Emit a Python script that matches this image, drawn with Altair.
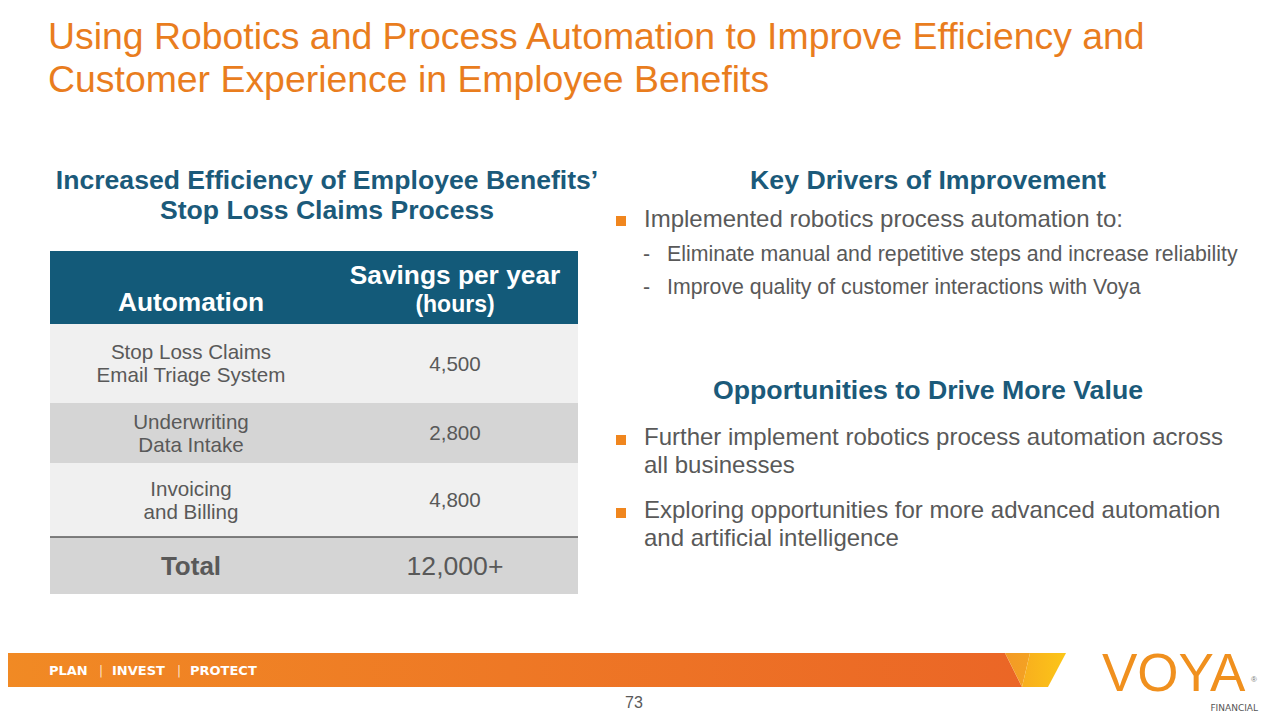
import altair as alt
import pandas as pd

# ---------------- data ----------------
title_lines = [
    "Using Robotics and Process Automation to Improve Efficiency and",
    "Customer Experience in Employee Benefits",
]
table_heading = ["Increased Efficiency of Employee Benefits\u2019", "Stop Loss Claims Process"]
col1_header = "Automation"
col2_header = ["Savings per year", "(hours)"]
automations = [
    ["Stop Loss Claims", "Email Triage System"],
    ["Underwriting", "Data Intake"],
    ["Invoicing", "and Billing"],
]
savings_hours = [4500, 2800, 4800]
total_label = "Total"
total_value = "12,000+"
drivers_heading = "Key Drivers of Improvement"
drivers_bullet = "Implemented robotics process automation to:"
drivers_subs = [
    "Eliminate manual and repetitive steps and increase reliability",
    "Improve quality of customer interactions with Voya",
]
opportunities_heading = "Opportunities to Drive More Value"
opportunities_bullets = [
    ["Further implement robotics process automation across", "all businesses"],
    ["Exploring opportunities for more advanced automation", "and artificial intelligence"],
]
tagline_words = ["PLAN", "INVEST", "PROTECT"]
page_number = "73"
logo_word = "VOYA"
logo_sub = "FINANCIAL"

# ---------------- layout / style ----------------
ORANGE = "#E97D1E"
TEAL = "#1B5A7A"
HEADER_BG = "#135A79"
GRAY = "#595959"
LIGHT_ROW = "#F0F0F0"
DARK_ROW = "#D5D5D5"
FONT = "Liberation Sans"

W, H = 1264, 704
XS = alt.Scale(domain=[8, 8 + W], nice=False, zero=False)
YS = alt.Scale(domain=[8, 8 + H], nice=False, zero=False, reverse=True)


def xq(field="x"):
    return alt.X(f"{field}:Q", scale=XS, axis=None, stack=False)


def yq(field="y"):
    return alt.Y(f"{field}:Q", scale=YS, axis=None, stack=False)


def texts(rows, font=FONT, **style):
    df = pd.DataFrame(rows, columns=["x", "y", "text"])
    return alt.Chart(df).mark_text(font=font, **style).encode(
        x=xq(), y=yq(), text="text:N"
    )


layers = []

# ---- title ----
title_x, title_base, title_step = 48, 49, 43
layers.append(texts([(title_x, title_base + i * title_step, t) for i, t in enumerate(title_lines)],
                    fontSize=37.4, color=ORANGE, align="left", baseline="alphabetic"))

# ---- table ----
tbl_left, tbl_right = 50, 578
row_edges = [251, 324, 403, 463, 537, 594]
row_fills = [HEADER_BG, LIGHT_ROW, DARK_ROW, LIGHT_ROW, DARK_ROW]
rect_df = pd.DataFrame({
    "x": [tbl_left] * len(row_fills), "x2": [tbl_right] * len(row_fills),
    "y": row_edges[:-1], "y2": row_edges[1:], "fill": row_fills,
})
layers.append(alt.Chart(rect_df).mark_rect().encode(
    x=xq(), x2="x2:Q", y=yq(), y2="y2:Q", color=alt.Color("fill:N", scale=None)))
rule_df = pd.DataFrame({"x": [tbl_left], "x2": [tbl_right], "y": [row_edges[4]]})
layers.append(alt.Chart(rule_df).mark_rule(color="#5A5A5A", strokeWidth=1.5).encode(
    x=xq(), x2="x2:Q", y=yq()))

c1, c2 = 191, 455
# table heading above
layers.append(texts([(327, 189 + i * 30, t) for i, t in enumerate(table_heading)],
                    fontSize=26.6, fontWeight="bold", color=TEAL, align="center", baseline="alphabetic"))
# header
layers.append(texts([(c1, 311, col1_header), (c2, 284, col2_header[0])],
                    fontSize=26.3, fontWeight="bold", color="white", align="center", baseline="alphabetic"))
layers.append(texts([(c2, 312, col2_header[1])],
                    fontSize=23, fontWeight="bold", color="white", align="center", baseline="alphabetic"))
# body rows
row_rows, val_rows = [], []
for i, (lines, val) in enumerate(zip(automations, savings_hours)):
    mid = (row_edges[i + 1] + row_edges[i + 2]) / 2
    row_rows.append((c1, mid - 11.5 + 7, lines[0]))
    row_rows.append((c1, mid + 11.5 + 7, lines[1]))
    val_rows.append((c2, mid + 7, f"{val:,}"))
layers.append(texts(row_rows + val_rows, fontSize=20.6, color=GRAY, align="center", baseline="alphabetic"))
tmid = (row_edges[4] + row_edges[5]) / 2
layers.append(texts([(c1, tmid + 9.5, total_label)],
                    fontSize=26, fontWeight="bold", color=GRAY, align="center", baseline="alphabetic"))
layers.append(texts([(c2, tmid + 9.5, total_value)],
                    fontSize=26.6, color=GRAY, align="center", baseline="alphabetic"))

# ---- right column ----
rc = 928
layers.append(texts([(rc, 189, drivers_heading), (rc, 399, opportunities_heading)],
                    fontSize=26.7, fontWeight="bold", color=TEAL, align="center", baseline="alphabetic"))
bx, tx = 621, 644
bullet_rows = [(tx, 227, drivers_bullet)]
sq_rows = [(bx, 221)]
ob = 445
for lines in opportunities_bullets:
    sq_rows.append((bx, ob - 5))
    bullet_rows.append((tx, ob, lines[0]))
    bullet_rows.append((tx, ob + 28, lines[1]))
    ob += 73
layers.append(texts(bullet_rows, fontSize=24, color=GRAY, align="left", baseline="alphabetic"))
sub_rows = []
for j, s in enumerate(drivers_subs):
    yb = 260.5 + j * 33.5
    sub_rows.append((643, yb, "-"))
    sub_rows.append((667, yb, s))
layers.append(texts(sub_rows, fontSize=21.3, color=GRAY, align="left", baseline="alphabetic"))
sq_df = pd.DataFrame(sq_rows, columns=["x", "y"])
layers.append(alt.Chart(sq_df).mark_square(size=100, color="#F0861E", opacity=1).encode(x=xq(), y=yq()))

# ---- footer band ----
def band(rows, gradient):
    df = pd.DataFrame(rows, columns=["y", "x", "x2"])
    return alt.Chart(df).mark_area(orient="horizontal", color=gradient).encode(
        y=yq(), x=xq(), x2="x2:Q")


def lin(c0, c1_):
    return alt.Gradient(gradient="linear", x1=0, x2=1, y1=0, y2=0,
                        stops=[alt.GradientStop(color=c0, offset=0), alt.GradientStop(color=c1_, offset=1)])


top, bot = 653, 687
layers.append(band([(top, 0, 1005), (bot, 0, 1022)], lin("#F18A24", "#EB6626")))
layers.append(band([(top, 1005, 1030), (bot, 1022, 1022)], lin("#F39A26", "#F4A223")))
layers.append(band([(top, 1030, 1066), (bot, 1022, 1048)], lin("#F8AE1E", "#FCC618")))

tag_rows = [(49, 675, tagline_words[0]), (112, 675, tagline_words[1]), (190, 675, tagline_words[2])]
layers.append(texts(tag_rows, font="DejaVu Sans", fontSize=13, fontWeight="bold", color="white",
                    align="left", baseline="alphabetic"))
layers.append(texts([(101, 675, "|"), (179, 675, "|")], font="DejaVu Sans", fontSize=12,
                    color="#FFE3C8", align="center", baseline="alphabetic"))

layers.append(texts([(634, 708, page_number)], fontSize=16, color=GRAY, align="center", baseline="alphabetic"))

# ---- logo ----
layers.append(texts([(1102, 691, logo_word)], fontSize=53, color="#F0901E", align="left", baseline="alphabetic"))
layers.append(texts([(1254, 682, "\u00ae")], fontSize=8, color="#777777", align="center", baseline="alphabetic"))
layers.append(texts([(1258, 711, logo_sub)], font="DejaVu Sans", fontSize=9, color="#555555",
                    align="right", baseline="alphabetic"))

chart = alt.layer(*layers).properties(
    width=W, height=H, autosize="none", padding=0, background="white"
).configure_view(stroke=None)

chart.save("out.html", embed_options={"renderer": "svg", "actions": False})
